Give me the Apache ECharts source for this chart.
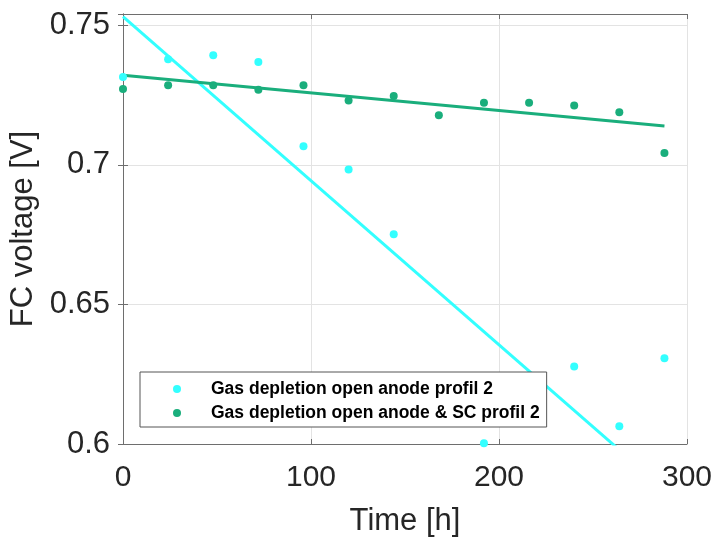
<!DOCTYPE html>
<html>
<head>
<meta charset="utf-8">
<script src="https://cdn.jsdelivr.net/npm/echarts@6/dist/echarts.min.js"></script>
<style>html,body{margin:0;padding:0;background:#fff;}#c{width:715px;height:538px;}</style>
</head>
<body>
<div id="c"></div>
<script>
const hours = [0, 24, 48, 72, 96, 120, 144, 168, 192, 216, 240, 264, 288];
const openAnode = [0.7314, 0.7378, 0.7392, 0.7368, 0.7066, 0.6983, 0.6751, null, 0.6003, null, 0.6278, 0.6064, 0.6307];
const openAnodeSC = [0.7271, 0.7285, 0.7285, 0.7269, 0.7285, 0.7230, 0.7246, 0.7177, 0.7222, 0.7222, 0.7212, 0.7188, 0.7042];
const fitHours = [0, 288];
const fitOpenAnode = [0.7531, 0.5838];
const fitOpenAnodeSC = [0.7321, 0.7139];
const xTicks = [0, 100, 200, 300];
const yTicks = [0.6, 0.65, 0.7, 0.75];
const names = ['Gas depletion open anode profil 2', 'Gas depletion open anode & SC profil 2'];

const pairs = (xs, ys) => xs.map((x, i) => [x, ys[i]]).filter(p => p[1] !== null);
const cyan = '#33ffff';
const green = '#1aae7c';
const axisCol = '#6e6e6e';
const font = 'Liberation Sans, Arial, sans-serif';

const chart = echarts.init(document.getElementById('c'));
const baseX = {
  type: 'value', min: xTicks[0], max: xTicks[xTicks.length - 1], interval: 100,
  axisLine: { show: true, lineStyle: { color: axisCol, width: 1 } },
  axisTick: { show: true, inside: true, length: 5, lineStyle: { color: axisCol } },
  splitLine: { show: false }
};
const baseY = {
  type: 'value', min: yTicks[0], max: 0.754, interval: 0.05,
  axisLine: { show: true, lineStyle: { color: axisCol, width: 1 } },
  axisTick: { show: true, inside: true, length: 5, lineStyle: { color: axisCol } },
  splitLine: { show: false }
};
chart.setOption({
  animation: false,
  backgroundColor: '#fff',
  grid: { left: 123, right: 28, top: 14, bottom: 94, containLabel: false, outerBoundsMode: 'none' },
  xAxis: [
    Object.assign({}, baseX, {
      position: 'bottom',
      name: 'Time [h]', nameLocation: 'middle', nameGap: 62,
      nameTextStyle: { fontFamily: font, fontSize: 31, color: '#262626' },
      axisLabel: { fontFamily: font, fontSize: 30, color: '#262626', margin: 19 },
      splitLine: { show: true, lineStyle: { color: '#e3e3e3', width: 1 } }
    }),
    Object.assign({}, baseX, { position: 'top', axisLabel: { show: false } })
  ],
  yAxis: [
    Object.assign({}, baseY, {
      position: 'left',
      name: 'FC voltage [V]', nameLocation: 'middle', nameGap: 81,
      nameTextStyle: { fontFamily: font, fontSize: 31, color: '#262626' },
      axisLabel: { fontFamily: font, fontSize: 31, color: '#262626', margin: 13,
        formatter: v => String(+v.toFixed(2)) },
      splitLine: { show: true, lineStyle: { color: '#e3e3e3', width: 1 } }
    }),
    Object.assign({}, baseY, { position: 'right', axisLabel: { show: false } })
  ],
  legend: {
    data: names,
    orient: 'vertical',
    left: 140, top: 372,
    backgroundColor: '#fff',
    borderColor: '#555',
    borderWidth: 1,
    borderRadius: 0,
    padding: [7, 7, 4, 33],
    itemWidth: 8, itemHeight: 8, itemGap: 4,
    icon: 'circle',
    textStyle: { fontFamily: font, fontSize: 17.5, fontWeight: 'bold', color: '#000', lineHeight: 20,
      padding: [0, 0, 0, 25] }
  },
  series: [
    { name: 'fit1', type: 'line', data: pairs(fitHours, fitOpenAnode), showSymbol: false, symbol: 'none',
      lineStyle: { color: cyan, width: 3 }, itemStyle: { color: cyan }, clip: true, z: 2 },
    { name: 'fit2', type: 'line', data: pairs(fitHours, fitOpenAnodeSC), showSymbol: false, symbol: 'none',
      lineStyle: { color: green, width: 3 }, itemStyle: { color: green }, clip: true, z: 2 },
    { name: names[0], type: 'scatter', data: pairs(hours, openAnode), symbolSize: 8,
      itemStyle: { color: cyan, opacity: 1 }, clip: true, z: 3 },
    { name: names[1], type: 'scatter', data: pairs(hours, openAnodeSC), symbolSize: 8,
      itemStyle: { color: green, opacity: 1 }, clip: true, z: 3 }
  ]
});
</script>
</body>
</html>
